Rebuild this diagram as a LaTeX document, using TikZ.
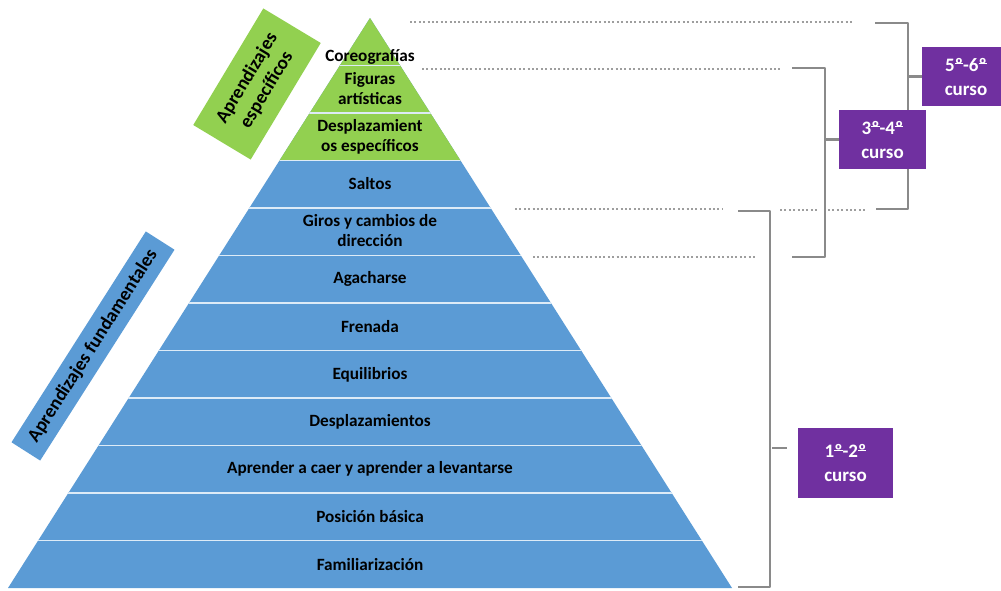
\documentclass[tikz,border=0pt]{standalone}
\usepackage{fontspec}
\setmainfont{Carlito}
\definecolor{pyblue}{HTML}{5B9BD5}
\definecolor{pygreen}{HTML}{92D050}
\definecolor{cursopurple}{HTML}{7030A0}
\definecolor{brackgray}{HTML}{8A8A8A}
\definecolor{dotgray}{HTML}{9E9E9E}
\definecolor{seplight}{HTML}{DDEBF7}
\newcommand{\ordm}{\setbox0\hbox{º}\rlap{\raisebox{0.36em}{\rule{\wd0}{0.06em}}}\box0}
\begin{document}
\begin{tikzpicture}[x=1pt,y=-1pt,line join=round,
  font=\bfseries\fontsize{17.2}{20}\selectfont,
  layer/.style={align=center,text=black,inner sep=0pt},
  curso/.style={fill=cursopurple,text=white,align=center,inner sep=0pt,
    font=\bfseries\fontsize{19}{24}\selectfont},
  tag/.style={align=center,inner sep=0pt,font=\bfseries\fontsize{19}{23}\selectfont},
  brack/.style={draw=brackgray,line width=2.5pt},
  guide/.style={draw=dotgray,line width=2pt,dash pattern=on 2pt off 2.4pt}]
\clip (0,0) rectangle (1001,590);
\fill[white] (0,0) rectangle (1001,590);
% piramide
\fill[pyblue] (370,18) -- (732,588) -- (8,588) -- cycle;
\begin{scope}
  \clip (370,18) -- (732,588) -- (8,588) -- cycle;
  \fill[pygreen] (0,0) rectangle (1001,160.5);
  \foreach \k in {1,...,11}
    \draw[seplight,line width=1.5pt] (0,{18+47.5*\k}) -- (1001,{18+47.5*\k});
\end{scope}
\node[layer] (coreo) at (370,57) {Coreografías};
\node[layer] (figuras) at (370,89) {Figuras\\artísticas};
\node[layer] (despesp) at (370,137) {Desplazamient\\os específicos};
\node[layer] (saltos) at (370,184) {Saltos};
\node[layer] (giros) at (370,231) {Giros y cambios de\\dirección};
\node[layer] (agach) at (370,279) {Agacharse};
\node[layer] (frenada) at (370,327) {Frenada};
\node[layer] (equil) at (370,375) {Equilibrios};
\node[layer] (despl) at (370,422) {Desplazamientos};
\node[layer] (caer) at (370,469) {Aprender a caer y aprender a levantarse};
\node[layer] (posic) at (370,517) {Posición básica};
\node[layer] (famil) at (370,565) {Familiarización};
% etiquetas laterales
\node[tag,fill=pygreen,rotate=59,minimum width=136,minimum height=67] (espec) at (257,84) {Aprendizajes\\específicos};
\node[tag,fill=pyblue,rotate=57.5,minimum width=250,minimum height=34] (fund) at (93,346) {Aprendizajes fundamentales};
% lineas de referencia
\draw[guide] (410,22) -- (853,22);
\draw[guide] (422,69) -- (780,69);
\draw[guide] (515,209) -- (722,209);
\draw[guide] (533,257) -- (757,257);
\draw[guide] (780,210) -- (817,210);
\draw[guide] (828,210) -- (865,210);
% llaves
\draw[brack] (875,23) -- (908,23) -- (908,209) -- (876,209);
\draw[brack] (792,68) -- (825,68) -- (825,257) -- (792,257);
\draw[brack] (738,211) -- (770,211) -- (770,587) -- (738,587);
% cursos
\node[curso,minimum width=88,minimum height=59] (c56) at (966,76.5) {5\ordm-6\ordm\\curso};
\node[curso,minimum width=87,minimum height=59] (c34) at (882.5,139.5) {3\ordm-4\ordm\\curso};
\node[curso,minimum width=95,minimum height=70] (c12) at (845.5,463) {1\ordm-2\ordm\\curso};
\draw[brack] (c56.west) -- ++(-14,0);
\draw[brack] (c34.west) -- ++(-14,0);
\draw[brack] (772,448) -- (787,448);
\end{tikzpicture}
\end{document}
